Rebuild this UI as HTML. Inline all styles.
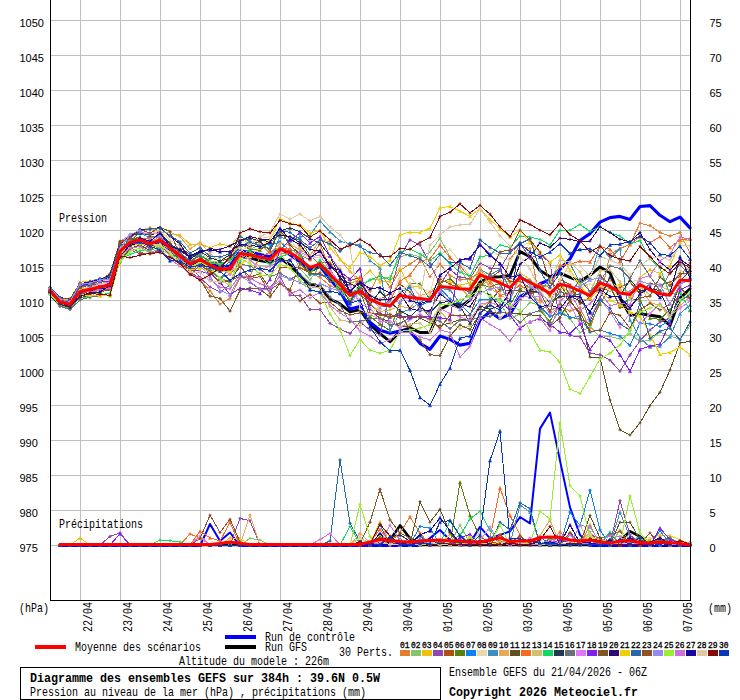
<!DOCTYPE html>
<html><head><meta charset="utf-8"><title>Diagramme des ensembles GEFS</title>
<style>
html,body{margin:0;padding:0;background:#fff;}
svg{display:block;}
.m{font-family:"Liberation Mono",monospace;font-size:13px;fill:#000;}
.mb{font-family:"Liberation Mono",monospace;font-size:13px;font-weight:bold;fill:#000;}
.s{font-family:"Liberation Sans",sans-serif;font-size:11px;fill:#000;}
.t{font-family:"Liberation Mono",monospace;font-size:9.5px;fill:#000;stroke:#000;stroke-width:0.35px;}
</style></head><body>
<svg width="740" height="700" viewBox="0 0 740 700">
<defs>
<marker id="k0" markerWidth="5" markerHeight="5" refX="0" refY="0" viewBox="-2.5 -2.5 5 5" markerUnits="userSpaceOnUse" orient="0"><g fill="#e67e30" stroke="#e67e30" stroke-width="0.6"><path d="M-1.5,0L0,-1.5L1.5,0L0,1.5Z"/></g></marker>
<marker id="k1" markerWidth="5" markerHeight="5" refX="0" refY="0" viewBox="-2.5 -2.5 5 5" markerUnits="userSpaceOnUse" orient="0"><g fill="#84c46c" stroke="#84c46c" stroke-width="0.6"><path d="M-1.5,0H1.5M0,-1.5V1.5" stroke-width="1"/></g></marker>
<marker id="k2" markerWidth="5" markerHeight="5" refX="0" refY="0" viewBox="-2.5 -2.5 5 5" markerUnits="userSpaceOnUse" orient="0"><g fill="#f0c010" stroke="#f0c010" stroke-width="0.6"><path d="M-1.5,1.5L0,-1.5L1.5,1.5Z"/></g></marker>
<marker id="k3" markerWidth="5" markerHeight="5" refX="0" refY="0" viewBox="-2.5 -2.5 5 5" markerUnits="userSpaceOnUse" orient="0"><g fill="#9048b0" stroke="#9048b0" stroke-width="0.6"><path d="M-1.5,0L0,-1.5L1.5,0L0,1.5Z"/></g></marker>
<marker id="k4" markerWidth="5" markerHeight="5" refX="0" refY="0" viewBox="-2.5 -2.5 5 5" markerUnits="userSpaceOnUse" orient="0"><g fill="#b05010" stroke="#b05010" stroke-width="0.6"><path d="M-1.5,0H1.5M0,-1.5V1.5" stroke-width="1"/></g></marker>
<marker id="k5" markerWidth="5" markerHeight="5" refX="0" refY="0" viewBox="-2.5 -2.5 5 5" markerUnits="userSpaceOnUse" orient="0"><g fill="#5c8010" stroke="#5c8010" stroke-width="0.6"><path d="M-1.5,1.5L0,-1.5L1.5,1.5Z"/></g></marker>
<marker id="k6" markerWidth="5" markerHeight="5" refX="0" refY="0" viewBox="-2.5 -2.5 5 5" markerUnits="userSpaceOnUse" orient="0"><g fill="#1080f0" stroke="#1080f0" stroke-width="0.6"><path d="M-1.5,0L0,-1.5L1.5,0L0,1.5Z"/></g></marker>
<marker id="k7" markerWidth="5" markerHeight="5" refX="0" refY="0" viewBox="-2.5 -2.5 5 5" markerUnits="userSpaceOnUse" orient="0"><g fill="#e8d8b0" stroke="#e8d8b0" stroke-width="0.6"><path d="M-1.5,0H1.5M0,-1.5V1.5" stroke-width="1"/></g></marker>
<marker id="k8" markerWidth="5" markerHeight="5" refX="0" refY="0" viewBox="-2.5 -2.5 5 5" markerUnits="userSpaceOnUse" orient="0"><g fill="#3c90c0" stroke="#3c90c0" stroke-width="0.6"><path d="M-1.5,1.5L0,-1.5L1.5,1.5Z"/></g></marker>
<marker id="k9" markerWidth="5" markerHeight="5" refX="0" refY="0" viewBox="-2.5 -2.5 5 5" markerUnits="userSpaceOnUse" orient="0"><g fill="#e8a858" stroke="#e8a858" stroke-width="0.6"><path d="M-1.5,0L0,-1.5L1.5,0L0,1.5Z"/></g></marker>
<marker id="k10" markerWidth="5" markerHeight="5" refX="0" refY="0" viewBox="-2.5 -2.5 5 5" markerUnits="userSpaceOnUse" orient="0"><g fill="#605020" stroke="#605020" stroke-width="0.6"><path d="M-1.5,0H1.5M0,-1.5V1.5" stroke-width="1"/></g></marker>
<marker id="k11" markerWidth="5" markerHeight="5" refX="0" refY="0" viewBox="-2.5 -2.5 5 5" markerUnits="userSpaceOnUse" orient="0"><g fill="#f86820" stroke="#f86820" stroke-width="0.6"><path d="M-1.5,1.5L0,-1.5L1.5,1.5Z"/></g></marker>
<marker id="k12" markerWidth="5" markerHeight="5" refX="0" refY="0" viewBox="-2.5 -2.5 5 5" markerUnits="userSpaceOnUse" orient="0"><g fill="#d0c070" stroke="#d0c070" stroke-width="0.6"><path d="M-1.5,0L0,-1.5L1.5,0L0,1.5Z"/></g></marker>
<marker id="k13" markerWidth="5" markerHeight="5" refX="0" refY="0" viewBox="-2.5 -2.5 5 5" markerUnits="userSpaceOnUse" orient="0"><g fill="#10d860" stroke="#10d860" stroke-width="0.6"><path d="M-1.5,0H1.5M0,-1.5V1.5" stroke-width="1"/></g></marker>
<marker id="k14" markerWidth="5" markerHeight="5" refX="0" refY="0" viewBox="-2.5 -2.5 5 5" markerUnits="userSpaceOnUse" orient="0"><g fill="#203850" stroke="#203850" stroke-width="0.6"><path d="M-1.5,1.5L0,-1.5L1.5,1.5Z"/></g></marker>
<marker id="k15" markerWidth="5" markerHeight="5" refX="0" refY="0" viewBox="-2.5 -2.5 5 5" markerUnits="userSpaceOnUse" orient="0"><g fill="#687078" stroke="#687078" stroke-width="0.6"><path d="M-1.5,0L0,-1.5L1.5,0L0,1.5Z"/></g></marker>
<marker id="k16" markerWidth="5" markerHeight="5" refX="0" refY="0" viewBox="-2.5 -2.5 5 5" markerUnits="userSpaceOnUse" orient="0"><g fill="#e078f8" stroke="#e078f8" stroke-width="0.6"><path d="M-1.5,0H1.5M0,-1.5V1.5" stroke-width="1"/></g></marker>
<marker id="k17" markerWidth="5" markerHeight="5" refX="0" refY="0" viewBox="-2.5 -2.5 5 5" markerUnits="userSpaceOnUse" orient="0"><g fill="#8020f0" stroke="#8020f0" stroke-width="0.6"><path d="M-1.5,1.5L0,-1.5L1.5,1.5Z"/></g></marker>
<marker id="k18" markerWidth="5" markerHeight="5" refX="0" refY="0" viewBox="-2.5 -2.5 5 5" markerUnits="userSpaceOnUse" orient="0"><g fill="#805828" stroke="#805828" stroke-width="0.6"><path d="M-1.5,0L0,-1.5L1.5,0L0,1.5Z"/></g></marker>
<marker id="k19" markerWidth="5" markerHeight="5" refX="0" refY="0" viewBox="-2.5 -2.5 5 5" markerUnits="userSpaceOnUse" orient="0"><g fill="#300870" stroke="#300870" stroke-width="0.6"><path d="M-1.5,0H1.5M0,-1.5V1.5" stroke-width="1"/></g></marker>
<marker id="k20" markerWidth="5" markerHeight="5" refX="0" refY="0" viewBox="-2.5 -2.5 5 5" markerUnits="userSpaceOnUse" orient="0"><g fill="#f0d000" stroke="#f0d000" stroke-width="0.6"><path d="M-1.5,1.5L0,-1.5L1.5,1.5Z"/></g></marker>
<marker id="k21" markerWidth="5" markerHeight="5" refX="0" refY="0" viewBox="-2.5 -2.5 5 5" markerUnits="userSpaceOnUse" orient="0"><g fill="#2868a8" stroke="#2868a8" stroke-width="0.6"><path d="M-1.5,0L0,-1.5L1.5,0L0,1.5Z"/></g></marker>
<marker id="k22" markerWidth="5" markerHeight="5" refX="0" refY="0" viewBox="-2.5 -2.5 5 5" markerUnits="userSpaceOnUse" orient="0"><g fill="#905020" stroke="#905020" stroke-width="0.6"><path d="M-1.5,0H1.5M0,-1.5V1.5" stroke-width="1"/></g></marker>
<marker id="k23" markerWidth="5" markerHeight="5" refX="0" refY="0" viewBox="-2.5 -2.5 5 5" markerUnits="userSpaceOnUse" orient="0"><g fill="#9888f0" stroke="#9888f0" stroke-width="0.6"><path d="M-1.5,1.5L0,-1.5L1.5,1.5Z"/></g></marker>
<marker id="k24" markerWidth="5" markerHeight="5" refX="0" refY="0" viewBox="-2.5 -2.5 5 5" markerUnits="userSpaceOnUse" orient="0"><g fill="#98f030" stroke="#98f030" stroke-width="0.6"><path d="M-1.5,0L0,-1.5L1.5,0L0,1.5Z"/></g></marker>
<marker id="k25" markerWidth="5" markerHeight="5" refX="0" refY="0" viewBox="-2.5 -2.5 5 5" markerUnits="userSpaceOnUse" orient="0"><g fill="#d070d8" stroke="#d070d8" stroke-width="0.6"><path d="M-1.5,0H1.5M0,-1.5V1.5" stroke-width="1"/></g></marker>
<marker id="k26" markerWidth="5" markerHeight="5" refX="0" refY="0" viewBox="-2.5 -2.5 5 5" markerUnits="userSpaceOnUse" orient="0"><g fill="#1808a0" stroke="#1808a0" stroke-width="0.6"><path d="M-1.5,1.5L0,-1.5L1.5,1.5Z"/></g></marker>
<marker id="k27" markerWidth="5" markerHeight="5" refX="0" refY="0" viewBox="-2.5 -2.5 5 5" markerUnits="userSpaceOnUse" orient="0"><g fill="#e0c8a0" stroke="#e0c8a0" stroke-width="0.6"><path d="M-1.5,0L0,-1.5L1.5,0L0,1.5Z"/></g></marker>
<marker id="k28" markerWidth="5" markerHeight="5" refX="0" refY="0" viewBox="-2.5 -2.5 5 5" markerUnits="userSpaceOnUse" orient="0"><g fill="#880808" stroke="#880808" stroke-width="0.6"><path d="M-1.5,0H1.5M0,-1.5V1.5" stroke-width="1"/></g></marker>
<marker id="k29" markerWidth="5" markerHeight="5" refX="0" refY="0" viewBox="-2.5 -2.5 5 5" markerUnits="userSpaceOnUse" orient="0"><g fill="#0838b8" stroke="#0838b8" stroke-width="0.6"><path d="M-1.5,1.5L0,-1.5L1.5,1.5Z"/></g></marker>
</defs>
<rect width="740" height="700" fill="#fff"/>
<g stroke="#c0c0c0" stroke-width="1" shape-rendering="crispEdges">
<line x1="80.5" y1="0" x2="80.5" y2="600"/>
<line x1="120.5" y1="0" x2="120.5" y2="600"/>
<line x1="160.5" y1="0" x2="160.5" y2="600"/>
<line x1="200.5" y1="0" x2="200.5" y2="600"/>
<line x1="240.5" y1="0" x2="240.5" y2="600"/>
<line x1="280.5" y1="0" x2="280.5" y2="600"/>
<line x1="320.5" y1="0" x2="320.5" y2="600"/>
<line x1="360.5" y1="0" x2="360.5" y2="600"/>
<line x1="400.5" y1="0" x2="400.5" y2="600"/>
<line x1="440.5" y1="0" x2="440.5" y2="600"/>
<line x1="480.5" y1="0" x2="480.5" y2="600"/>
<line x1="520.5" y1="0" x2="520.5" y2="600"/>
<line x1="560.5" y1="0" x2="560.5" y2="600"/>
<line x1="600.5" y1="0" x2="600.5" y2="600"/>
<line x1="640.5" y1="0" x2="640.5" y2="600"/>
<line x1="680.5" y1="0" x2="680.5" y2="600"/>
<line x1="51" y1="20.5" x2="690" y2="20.5"/>
<line x1="51" y1="55.5" x2="690" y2="55.5"/>
<line x1="51" y1="90.5" x2="690" y2="90.5"/>
<line x1="51" y1="125.5" x2="690" y2="125.5"/>
<line x1="51" y1="160.5" x2="690" y2="160.5"/>
<line x1="51" y1="195.5" x2="690" y2="195.5"/>
<line x1="51" y1="230.5" x2="690" y2="230.5"/>
<line x1="51" y1="265.5" x2="690" y2="265.5"/>
<line x1="51" y1="300.5" x2="690" y2="300.5"/>
<line x1="51" y1="335.5" x2="690" y2="335.5"/>
<line x1="51" y1="370.5" x2="690" y2="370.5"/>
<line x1="51" y1="405.5" x2="690" y2="405.5"/>
<line x1="51" y1="440.5" x2="690" y2="440.5"/>
<line x1="51" y1="475.5" x2="690" y2="475.5"/>
<line x1="51" y1="510.5" x2="690" y2="510.5"/>
<line x1="51" y1="545.5" x2="690" y2="545.5"/>
</g>
<g stroke-linejoin="round" stroke-linecap="round">
<polyline points="50,293.9 60,304.8 70,305.9 80,292.1 90,290.0 100,288.7 110,287.7 120,254.9 130,245.1 140,241.5 150,244.6 160,240.6 170,249.6 180,259.0 190,267.5 200,262.3 210,266.7 220,269.9 230,269.3 240,255.3 250,257.8 260,260.6 270,262.3 280,258.2 290,265.0 300,275.5 310,284.7 320,287.0 330,299.0 340,303.8 350,311.8 360,309.5 370,324.5 380,333.6 390,341.7 400,331.4 410,327.9 420,332.5 430,332.5 440,309.5 450,304.0 460,307.0 470,300.0 480,282.0 490,277.3 500,276.8 510,275.5 520,251.6 530,256.6 540,270.4 550,276.8 560,273.2 570,277.3 580,281.4 590,275.0 600,267.0 610,272.7 620,298.0 630,315.2 640,313.6 650,315.2 660,316.8 670,325.5 680,298.0 690,288.8" fill="none" stroke="#000" stroke-width="2.9"/>
<polyline points="50,290.9 60,303.8 70,305.5 80,291.0 90,288.5 100,287.8 110,286.7 120,252.4 130,241.5 140,239.3 150,245.1 160,241.9 170,248.6 180,255.1 190,263.6 200,260.8 210,262.5 220,266.7 230,266.0 240,251.0 250,252.2 260,254.5 270,256.8 280,248.0 290,254.7 300,261.6 310,269.6 320,266.2 330,279.0 340,291.0 350,309.0 360,306.5 370,322.2 380,330.2 390,333.2 400,330.9 410,331.4 420,343.3 430,349.3 440,336.0 450,339.4 460,345.1 470,343.3 480,319.9 490,311.8 500,318.7 510,314.1 520,296.9 530,291.0 540,283.7 550,279.6 560,269.3 570,258.9 580,240.5 590,233.6 600,222.2 610,217.6 620,216.4 630,219.4 640,206.5 650,205.6 660,215.3 670,221.7 680,217.1 690,227.9" fill="none" stroke="#0000ff" stroke-width="3.1"/>
<polyline points="60,545.0 70,545.0 80,545.0 90,545.0 100,545.0 110,545.0 120,545.0 130,545.0 140,545.0 150,545.0 160,545.0 170,545.0 180,545.0 190,545.0 200,545.0 210,545.0 220,545.0 230,545.0 240,545.0 250,545.0 260,545.0 270,545.0 280,545.0 290,545.0 300,545.0 310,545.0 320,545.0 330,545.0 340,545.0 350,545.0 360,545.0 370,545.0 380,538.0 390,540.0 400,525.4 410,538.4 420,545.0 430,545.0 440,545.0 450,545.0 460,545.0 470,545.0 480,545.0 490,545.0 500,545.0 510,545.0 520,545.0 530,545.0 540,545.0 550,545.0 560,545.0 570,545.0 580,545.0 590,545.0 600,545.0 610,545.0 620,541.0 630,531.3 640,536.5 650,543.0 660,545.0 670,545.0 680,545.0 690,545.0" fill="none" stroke="#000" stroke-width="2.6"/>
<polyline points="60,546.0 70,546.0 80,546.0 90,546.0 100,546.0 110,546.0 120,546.0 130,546.0 140,546.0 150,546.0 160,546.0 170,546.0 180,546.0 190,546.0 200,546.0 210,524.0 220,541.0 230,532.5 240,546.0 250,546.0 260,546.0 270,546.0 280,546.0 290,546.0 300,546.0 310,546.0 320,546.0 330,546.0 340,546.0 350,546.0 360,546.0 370,546.0 380,546.0 390,546.0 400,546.0 410,546.0 420,546.0 430,538.0 440,530.0 450,540.0 460,546.0 470,543.0 480,526.9 490,538.3 500,534.9 510,531.4 520,517.0 530,523.4 540,428.6 550,412.6 560,460.6 570,507.4 580,534.9 590,546.0 600,546.0 610,546.0 620,546.0 630,546.0 640,546.0 650,546.0 660,546.0 670,546.0 680,546.0 690,546.0" fill="none" stroke="#0000ff" stroke-width="2"/>
</g>
<g shape-rendering="crispEdges" stroke-linejoin="round">
<polyline points="50,290.2 60,301.2 70,304.0 80,292.0 90,289.8 100,285.8 110,287.6 120,253.2 130,240.2 140,238.2 150,242.5 160,236.4 170,244.4 180,265.2 190,273.5 200,279.8 210,291.0 220,304.0 230,298.4 240,277.8 250,276.0 260,256.9 270,260.9 280,253.2 290,253.7 300,255.3 310,273.3 320,277.2 330,285.8 340,289.5 350,293.3 360,278.9 370,291.2 380,272.9 390,287.2 400,270.5 410,264.0 420,257.3 430,276.6 440,264.1 450,275.7 460,280.0 470,278.9 480,284.5 490,281.3 500,291.1 510,259.0 520,246.0 530,248.6 540,300.3 550,310.2 560,306.7 570,311.0 580,307.8 590,328.1 600,299.9 610,254.0 620,248.6 630,244.0 640,223.3 650,225.6 660,232.5 670,236.0 680,232.5 690,253.0" fill="none" stroke="#e67e30" stroke-width="1" marker-start="url(#k0)" marker-mid="url(#k0)" marker-end="url(#k0)"/>
<polyline points="50,292.2 60,304.0 70,306.6 80,297.3 90,298.0 100,287.5 110,287.4 120,254.2 130,247.7 140,246.7 150,248.1 160,244.2 170,248.7 180,260.9 190,263.6 200,264.6 210,272.1 220,277.6 230,282.9 240,255.8 250,249.8 260,244.5 270,253.1 280,246.8 290,249.7 300,268.6 310,279.9 320,265.9 330,273.4 340,289.2 350,299.6 360,284.5 370,280.1 380,279.0 390,277.0 400,256.6 410,254.3 420,256.6 430,252.0 440,238.2 450,256.6 460,268.0 470,285.3 480,276.4 490,297.4 500,303.2 510,318.8 520,313.7 530,302.4 540,305.5 550,325.6 560,309.7 570,318.7 580,332.7 590,326.2 600,337.3 610,336.5 620,339.0 630,333.6 640,341.7 650,340.2 660,332.0 670,336.2 680,339.1 690,325.8" fill="none" stroke="#84c46c" stroke-width="1" marker-start="url(#k1)" marker-mid="url(#k1)" marker-end="url(#k1)"/>
<polyline points="50,288.0 60,298.8 70,301.1 80,282.3 90,280.9 100,278.4 110,277.6 120,244.2 130,242.3 140,230.8 150,228.0 160,235.6 170,234.8 180,235.0 190,244.5 200,243.9 210,247.7 220,243.7 230,246.4 240,234.4 250,246.0 260,236.6 270,247.2 280,232.9 290,237.4 300,246.4 310,257.7 320,250.0 330,262.8 340,268.2 350,283.2 360,279.8 370,270.6 380,281.7 390,281.3 400,268.3 410,287.0 420,286.9 430,293.3 440,281.3 450,281.9 460,285.3 470,282.7 480,268.1 490,279.9 500,280.7 510,282.0 520,272.8 530,279.4 540,287.4 550,296.4 560,284.7 570,294.0 580,288.5 590,294.5 600,283.0 610,286.8 620,284.5 630,294.7 640,277.7 650,269.5 660,273.5 670,266.0 680,242.4 690,239.4" fill="none" stroke="#f0c010" stroke-width="1" marker-start="url(#k2)" marker-mid="url(#k2)" marker-end="url(#k2)"/>
<polyline points="50,289.7 60,301.5 70,303.8 80,293.5 90,292.9 100,287.3 110,286.7 120,257.5 130,249.8 140,254.0 150,253.3 160,250.9 170,253.2 180,263.6 190,265.9 200,277.5 210,287.1 220,291.9 230,284.9 240,264.0 250,282.4 260,289.0 270,288.0 280,276.6 290,295.0 300,295.7 310,309.5 320,309.5 330,323.3 340,329.0 350,333.6 360,322.0 370,330.0 380,335.0 390,292.7 400,256.6 410,240.0 420,245.0 430,263.5 440,284.5 450,269.7 460,277.3 470,278.5 480,262.9 490,268.2 500,269.1 510,251.3 520,242.6 530,258.4 540,253.9 550,263.0 560,321.8 570,335.6 580,336.8 590,353.3 600,354.7 610,360.2 620,371.2 630,355.0 640,340.9 650,330.0 660,322.0 670,318.0 680,300.0 690,296.0" fill="none" stroke="#9048b0" stroke-width="1" marker-start="url(#k3)" marker-mid="url(#k3)" marker-end="url(#k3)"/>
<polyline points="50,292.1 60,304.1 70,306.1 80,292.0 90,293.5 100,292.4 110,287.9 120,256.9 130,247.5 140,252.5 150,254.2 160,249.8 170,254.2 180,258.6 190,272.0 200,263.7 210,273.4 220,281.3 230,280.7 240,276.3 250,278.6 260,276.5 270,293.5 280,268.0 290,267.8 300,267.8 310,272.7 320,262.3 330,263.1 340,276.0 350,280.5 360,277.7 370,300.2 380,298.9 390,293.7 400,284.1 410,291.9 420,304.4 430,317.9 440,278.8 450,284.2 460,287.7 470,292.3 480,276.3 490,278.7 500,270.8 510,281.7 520,281.2 530,287.4 540,283.8 550,295.7 560,279.6 570,284.7 580,304.0 590,296.9 600,287.6 610,290.8 620,287.5 630,282.1 640,293.8 650,283.5 660,285.1 670,282.1 680,276.5 690,262.8" fill="none" stroke="#b05010" stroke-width="1" marker-start="url(#k4)" marker-mid="url(#k4)" marker-end="url(#k4)"/>
<polyline points="50,289.3 60,300.1 70,303.8 80,290.4 90,287.9 100,284.2 110,280.8 120,247.3 130,239.9 140,237.0 150,246.2 160,240.2 170,244.9 180,257.2 190,261.3 200,254.6 210,261.4 220,266.0 230,258.6 240,243.5 250,249.4 260,250.3 270,241.9 280,235.2 290,236.8 300,240.3 310,255.3 320,265.3 330,277.3 340,289.3 350,291.5 360,291.9 370,316.5 380,324.0 390,330.6 400,302.6 410,283.9 420,283.9 430,299.7 440,283.5 450,278.6 460,288.2 470,289.3 480,284.5 490,286.9 500,283.2 510,304.9 520,288.4 530,286.0 540,310.4 550,321.4 560,302.9 570,317.4 580,319.0 590,323.9 600,304.0 610,287.5 620,305.8 630,298.4 640,300.2 650,318.2 660,319.3 670,309.7 680,292.6 690,310.5" fill="none" stroke="#5c8010" stroke-width="1" marker-start="url(#k5)" marker-mid="url(#k5)" marker-end="url(#k5)"/>
<polyline points="50,289.6 60,301.7 70,303.7 80,288.1 90,281.6 100,278.5 110,278.8 120,244.7 130,239.4 140,239.9 150,241.7 160,249.4 170,248.6 180,259.8 190,268.5 200,260.9 210,268.8 220,270.9 230,261.4 240,246.4 250,241.9 260,244.9 270,244.8 280,242.1 290,250.6 300,251.3 310,274.9 320,274.7 330,277.2 340,281.6 350,303.4 360,286.0 370,295.6 380,306.3 390,306.2 400,292.5 410,287.8 420,305.4 430,301.4 440,288.2 450,298.9 460,303.7 470,314.3 480,299.9 490,299.3 500,299.1 510,310.8 520,290.9 530,292.4 540,306.5 550,316.5 560,312.8 570,317.6 580,316.5 590,332.2 600,329.9 610,333.3 620,336.3 630,345.5 640,323.0 650,324.0 660,326.4 670,320.0 680,300.0 690,295.0" fill="none" stroke="#1080f0" stroke-width="1" marker-start="url(#k6)" marker-mid="url(#k6)" marker-end="url(#k6)"/>
<polyline points="50,289.8 60,300.6 70,303.7 80,292.1 90,284.4 100,285.6 110,278.4 120,246.1 130,236.3 140,231.1 150,234.0 160,230.6 170,240.3 180,246.2 190,255.6 200,253.0 210,259.3 220,257.8 230,256.5 240,241.2 250,237.9 260,238.1 270,236.7 280,230.0 290,238.4 300,253.8 310,258.0 320,257.6 330,256.3 340,268.5 350,283.8 360,285.3 370,294.5 380,298.9 390,299.5 400,276.1 410,278.1 420,286.0 430,293.6 440,254.7 450,249.2 460,261.8 470,276.4 480,261.2 490,249.5 500,256.4 510,260.7 520,247.3 530,241.7 540,258.1 550,268.1 560,266.1 570,273.6 580,287.7 590,284.1 600,285.4 610,290.2 620,296.8 630,281.3 640,280.6 650,290.9 660,292.6 670,292.7 680,268.7 690,283.0" fill="none" stroke="#e8d8b0" stroke-width="1" marker-start="url(#k7)" marker-mid="url(#k7)" marker-end="url(#k7)"/>
<polyline points="50,290.3 60,300.5 70,300.4 80,284.5 90,283.0 100,279.7 110,274.4 120,242.8 130,234.6 140,233.4 150,237.6 160,234.8 170,245.7 180,252.2 190,261.1 200,260.6 210,270.9 220,278.6 230,268.5 240,260.0 250,256.6 260,257.5 270,260.5 280,236.7 290,240.8 300,236.6 310,235.0 320,221.0 330,231.8 340,241.0 350,244.0 360,244.5 370,260.5 380,268.0 390,330.4 400,312.7 410,309.4 420,302.4 430,297.0 440,288.5 450,289.7 460,303.5 470,292.0 480,269.1 490,275.0 500,269.4 510,289.5 520,276.4 530,280.5 540,291.8 550,279.0 560,266.5 570,263.6 580,283.0 590,277.8 600,245.3 610,258.6 620,248.7 630,320.0 640,338.0 650,347.0 660,346.0 670,336.8 680,313.8 690,305.0" fill="none" stroke="#3c90c0" stroke-width="1" marker-start="url(#k8)" marker-mid="url(#k8)" marker-end="url(#k8)"/>
<polyline points="50,288.9 60,299.2 70,300.1 80,288.8 90,283.6 100,283.2 110,276.6 120,243.2 130,235.6 140,230.4 150,227.8 160,232.5 170,232.2 180,236.6 190,249.0 200,242.3 210,253.1 220,263.3 230,260.6 240,240.6 250,236.9 260,243.9 270,252.9 280,243.5 290,244.8 300,249.4 310,256.0 320,239.2 330,242.1 340,259.0 350,271.8 360,279.8 370,304.2 380,311.6 390,309.8 400,306.4 410,307.8 420,295.9 430,292.1 440,287.9 450,286.9 460,287.7 470,297.3 480,268.2 490,288.4 500,294.4 510,301.2 520,276.4 530,292.8 540,302.6 550,301.1 560,297.5 570,290.5 580,300.2 590,299.2 600,289.1 610,280.3 620,289.5 630,295.9 640,285.8 650,302.6 660,305.4 670,313.8 680,305.9 690,296.5" fill="none" stroke="#e8a858" stroke-width="1" marker-start="url(#k9)" marker-mid="url(#k9)" marker-end="url(#k9)"/>
<polyline points="50,291.9 60,304.1 70,306.6 80,298.6 90,294.0 100,291.7 110,289.7 120,262.0 130,248.3 140,245.0 150,250.5 160,241.5 170,246.3 180,248.5 190,253.9 200,257.0 210,264.8 220,261.3 230,258.0 240,246.6 250,244.6 260,241.5 270,251.0 280,229.7 290,245.1 300,254.3 310,272.3 320,267.2 330,276.1 340,285.2 350,302.2 360,283.4 370,309.1 380,318.6 390,321.6 400,326.1 410,326.1 420,318.2 430,322.8 440,325.8 450,323.0 460,319.8 470,318.9 480,309.0 490,312.5 500,312.7 510,312.9 520,313.9 530,314.8 540,315.7 550,326.5 560,317.7 570,300.0 580,315.0 590,357.0 600,357.9 610,400.0 620,429.8 630,435.0 640,422.9 650,405.7 660,392.3 670,370.0 680,343.0 690,341.4" fill="none" stroke="#605020" stroke-width="1" marker-start="url(#k10)" marker-mid="url(#k10)" marker-end="url(#k10)"/>
<polyline points="50,290.8 60,301.6 70,303.6 80,290.9 90,291.7 100,292.2 110,287.3 120,256.2 130,244.3 140,238.9 150,238.1 160,235.6 170,242.4 180,254.5 190,262.9 200,259.8 210,265.3 220,268.9 230,266.9 240,258.0 250,252.8 260,257.1 270,251.8 280,248.3 290,248.4 300,255.5 310,259.6 320,243.5 330,269.7 340,283.7 350,292.5 360,277.0 370,298.2 380,305.4 390,301.3 400,281.0 410,275.0 420,261.0 430,259.0 440,245.0 450,257.8 460,265.8 470,278.2 480,272.8 490,282.7 500,295.4 510,293.1 520,284.9 530,292.8 540,285.0 550,287.6 560,265.6 570,264.2 580,261.1 590,262.1 600,246.5 610,249.4 620,261.5 630,244.7 640,236.8 650,242.7 660,236.6 670,247.6 680,239.8 690,238.7" fill="none" stroke="#f86820" stroke-width="1" marker-start="url(#k11)" marker-mid="url(#k11)" marker-end="url(#k11)"/>
<polyline points="50,291.3 60,302.4 70,304.3 80,289.4 90,287.5 100,283.6 110,281.9 120,247.7 130,240.8 140,239.4 150,248.6 160,245.5 170,253.4 180,259.7 190,268.5 200,262.7 210,261.5 220,262.2 230,254.3 240,247.0 250,261.1 260,266.1 270,266.3 280,252.3 290,267.8 300,280.6 310,286.9 320,287.2 330,306.8 340,319.9 350,321.8 360,325.4 370,314.4 380,319.8 390,314.1 400,326.5 410,324.4 420,323.2 430,332.8 440,311.2 450,322.0 460,328.7 470,325.8 480,306.5 490,302.0 500,318.2 510,310.3 520,299.9 530,284.6 540,294.1 550,281.7 560,260.1 570,261.9 580,271.9 590,291.8 600,271.0 610,270.1 620,281.7 630,299.5 640,286.3 650,295.0 660,286.0 670,290.6 680,261.6 690,271.5" fill="none" stroke="#d0c070" stroke-width="1" marker-start="url(#k12)" marker-mid="url(#k12)" marker-end="url(#k12)"/>
<polyline points="50,291.8 60,304.6 70,308.9 80,297.4 90,296.7 100,295.1 110,293.0 120,259.8 130,254.3 140,250.8 150,250.5 160,246.5 170,253.4 180,259.4 190,257.8 200,254.7 210,263.3 220,264.2 230,259.6 240,253.4 250,251.5 260,257.5 270,264.6 280,257.3 290,253.2 300,255.5 310,274.4 320,260.0 330,272.3 340,294.0 350,293.0 360,287.7 370,279.9 380,276.1 390,279.6 400,252.0 410,248.8 420,253.9 430,260.8 440,252.9 450,263.6 460,272.3 470,275.9 480,256.6 490,255.5 500,245.0 510,247.4 520,236.0 530,237.0 540,239.4 550,245.0 560,230.2 570,230.2 580,224.5 590,231.4 600,226.8 610,232.5 620,236.0 630,244.0 640,240.5 650,259.0 660,268.0 670,294.3 680,292.5 690,310.5" fill="none" stroke="#10d860" stroke-width="1" marker-start="url(#k13)" marker-mid="url(#k13)" marker-end="url(#k13)"/>
<polyline points="50,289.3 60,299.8 70,301.9 80,286.8 90,283.3 100,281.2 110,276.9 120,243.8 130,236.6 140,233.0 150,235.0 160,232.3 170,244.0 180,250.8 190,257.4 200,251.4 210,257.7 220,261.1 230,254.6 240,241.3 250,238.3 260,240.6 270,241.3 280,230.8 290,227.9 300,231.8 310,238.5 320,243.5 330,255.9 340,278.8 350,283.6 360,288.9 370,304.3 380,291.2 390,302.3 400,310.4 410,316.6 420,307.5 430,312.3 440,302.5 450,301.6 460,306.1 470,323.1 480,306.1 490,309.3 500,305.3 510,308.1 520,298.3 530,291.8 540,292.1 550,302.5 560,296.1 570,296.1 580,301.0 590,311.3 600,297.7 610,277.3 620,295.6 630,279.9 640,290.7 650,288.8 660,290.6 670,314.1 680,281.8 690,270.1" fill="none" stroke="#203850" stroke-width="1" marker-start="url(#k14)" marker-mid="url(#k14)" marker-end="url(#k14)"/>
<polyline points="50,293.3 60,306.5 70,309.5 80,299.9 90,297.2 100,295.7 110,294.9 120,261.9 130,246.8 140,243.2 150,245.9 160,237.4 170,246.1 180,251.9 190,262.5 200,255.1 210,269.5 220,278.4 230,274.0 240,263.5 250,266.4 260,269.2 270,276.8 280,273.1 290,279.2 300,274.4 310,283.6 320,284.3 330,297.2 340,305.0 350,321.8 360,321.2 370,318.7 380,318.3 390,324.9 400,323.5 410,317.5 420,316.8 430,318.5 440,321.4 450,328.5 460,320.3 470,320.1 480,317.1 490,316.4 500,312.7 510,313.3 520,322.5 530,313.8 540,310.3 550,304.2 560,292.0 570,294.7 580,279.3 590,291.6 600,281.5 610,265.9 620,268.4 630,278.4 640,260.7 650,276.2 660,290.8 670,272.3 680,264.8 690,275.8" fill="none" stroke="#687078" stroke-width="1" marker-start="url(#k15)" marker-mid="url(#k15)" marker-end="url(#k15)"/>
<polyline points="50,290.0 60,301.1 70,301.5 80,284.5 90,286.5 100,283.2 110,282.8 120,241.7 130,234.7 140,232.4 150,234.0 160,232.8 170,248.3 180,255.4 190,263.0 200,260.3 210,268.5 220,267.6 230,274.5 240,254.3 250,259.6 260,269.8 270,266.2 280,260.5 290,260.2 300,252.1 310,257.1 320,255.1 330,270.3 340,282.6 350,285.7 360,303.8 370,307.6 380,322.0 390,321.2 400,328.4 410,319.6 420,314.1 430,320.8 440,308.3 450,313.6 460,317.1 470,320.4 480,304.3 490,302.1 500,306.3 510,307.3 520,298.0 530,295.6 540,296.6 550,314.3 560,306.5 570,304.9 580,323.4 590,318.3 600,298.8 610,311.9 620,327.8 630,312.8 640,323.9 650,313.5 660,303.3 670,315.4 680,308.2 690,301.0" fill="none" stroke="#e078f8" stroke-width="1" marker-start="url(#k16)" marker-mid="url(#k16)" marker-end="url(#k16)"/>
<polyline points="50,288.0 60,298.9 70,301.7 80,286.0 90,283.2 100,281.4 110,281.6 120,249.7 130,243.4 140,243.2 150,247.7 160,243.5 170,255.4 180,265.2 190,269.2 200,271.3 210,273.5 220,282.1 230,294.7 240,288.2 250,289.8 260,293.4 270,279.4 280,249.7 290,240.4 300,233.0 310,243.0 320,236.4 330,256.0 340,271.6 350,279.0 360,268.6 370,314.0 380,313.5 390,316.9 400,315.5 410,317.7 420,316.3 430,316.9 440,317.7 450,319.3 460,260.0 470,259.0 480,244.0 490,254.0 500,264.0 510,315.0 520,328.6 530,321.8 540,318.7 550,324.4 560,332.1 570,333.6 580,323.8 590,349.4 600,335.6 610,340.2 620,355.0 630,371.2 640,349.4 650,346.0 660,344.0 670,323.0 680,290.0 690,285.0" fill="none" stroke="#8020f0" stroke-width="1" marker-start="url(#k17)" marker-mid="url(#k17)" marker-end="url(#k17)"/>
<polyline points="50,290.1 60,300.8 70,300.9 80,287.5 90,285.0 100,279.8 110,273.8 120,241.3 130,238.8 140,229.7 150,232.9 160,227.5 170,231.4 180,255.4 190,271.5 200,279.0 210,296.0 220,298.4 230,311.0 240,290.4 250,288.0 260,289.3 270,296.8 280,283.5 290,290.0 300,263.3 310,273.8 320,272.9 330,281.5 340,281.3 350,292.1 360,294.2 370,303.8 380,314.6 390,317.2 400,313.0 410,330.0 420,340.0 430,354.8 440,355.5 450,336.0 460,325.0 470,329.4 480,313.8 490,301.8 500,289.6 510,290.5 520,290.6 530,293.2 540,292.5 550,311.4 560,284.8 570,299.2 580,287.7 590,299.6 600,275.7 610,285.3 620,307.6 630,305.8 640,297.7 650,296.1 660,276.9 670,285.6 680,273.7 690,273.6" fill="none" stroke="#805828" stroke-width="1" marker-start="url(#k18)" marker-mid="url(#k18)" marker-end="url(#k18)"/>
<polyline points="50,287.4 60,297.5 70,299.2 80,283.6 90,282.1 100,279.5 110,275.4 120,243.1 130,236.8 140,229.3 150,229.1 160,227.6 170,236.2 180,244.0 190,259.2 200,252.4 210,248.8 220,249.4 230,245.8 240,240.6 250,236.6 260,239.0 270,239.8 280,235.0 290,236.6 300,242.6 310,249.5 320,251.2 330,265.2 340,276.7 350,291.3 360,283.0 370,295.6 380,300.1 390,299.2 400,293.6 410,308.5 420,311.0 430,310.8 440,293.8 450,301.7 460,304.4 470,306.7 480,290.8 490,295.1 500,308.0 510,290.9 520,264.3 530,256.4 540,243.0 550,247.4 560,238.2 570,239.4 580,241.7 590,241.0 600,226.8 610,232.5 620,239.4 630,241.7 640,232.5 650,249.7 660,262.0 670,269.9 680,259.2 690,266.0" fill="none" stroke="#300870" stroke-width="1" marker-start="url(#k19)" marker-mid="url(#k19)" marker-end="url(#k19)"/>
<polyline points="50,291.6 60,302.6 70,305.8 80,295.8 90,295.2 100,295.9 110,295.8 120,259.4 130,246.6 140,243.5 150,246.6 160,245.1 170,253.1 180,265.2 190,270.1 200,268.1 210,271.5 220,271.3 230,272.0 240,265.1 250,256.4 260,248.0 270,240.3 280,218.7 290,223.3 300,225.0 310,233.0 320,230.7 330,248.0 340,259.4 350,267.4 360,252.5 370,256.6 380,265.4 390,260.0 400,234.8 410,232.0 420,232.5 430,227.9 440,207.9 450,206.5 460,211.1 470,216.4 480,208.4 490,219.4 500,229.0 510,237.0 520,230.2 530,242.8 540,252.0 550,262.0 560,255.0 570,270.0 580,285.0 590,298.0 600,290.0 610,300.0 620,305.0 630,312.0 640,316.0 650,334.5 660,354.4 670,352.4 680,347.0 690,354.7" fill="none" stroke="#f0d000" stroke-width="1" marker-start="url(#k20)" marker-mid="url(#k20)" marker-end="url(#k20)"/>
<polyline points="50,287.4 60,297.4 70,304.3 80,284.6 90,286.3 100,280.1 110,276.3 120,245.1 130,243.4 140,231.0 150,229.0 160,228.8 170,235.5 180,241.9 190,253.2 200,247.7 210,256.2 220,257.0 230,253.7 240,236.6 250,241.7 260,246.6 270,248.4 280,229.9 290,232.5 300,239.5 310,247.6 320,240.2 330,243.9 340,251.3 350,243.3 360,246.6 370,252.6 380,254.4 390,265.3 400,252.3 410,255.8 420,259.0 430,266.9 440,254.6 450,262.6 460,262.6 470,268.3 480,239.7 490,247.5 500,253.0 510,253.1 520,243.7 530,238.7 540,270.8 550,287.2 560,273.2 570,296.6 580,294.1 590,320.9 600,299.7 610,308.6 620,323.9 630,330.2 640,303.7 650,338.4 660,331.2 670,328.3 680,339.8 690,322.1" fill="none" stroke="#2868a8" stroke-width="1" marker-start="url(#k21)" marker-mid="url(#k21)" marker-end="url(#k21)"/>
<polyline points="50,287.7 60,298.6 70,299.1 80,283.0 90,283.6 100,285.9 110,284.6 120,242.9 130,237.6 140,240.9 150,244.4 160,244.0 170,252.5 180,258.5 190,275.0 200,264.9 210,271.2 220,283.2 230,280.6 240,266.8 250,277.4 260,273.5 270,289.7 280,283.3 290,291.1 300,301.0 310,294.4 320,303.2 330,302.1 340,310.4 350,314.8 360,312.9 370,313.1 380,314.6 390,314.4 400,317.8 410,316.4 420,316.3 430,318.6 440,328.3 450,315.1 460,315.5 470,315.8 480,287.5 490,273.6 500,252.0 510,249.7 520,230.0 530,240.0 540,252.0 550,282.8 560,289.5 570,302.2 580,312.4 590,331.4 600,330.5 610,312.7 620,315.4 630,328.3 640,309.8 650,303.4 660,310.0 670,304.1 680,286.9 690,298.7" fill="none" stroke="#905020" stroke-width="1" marker-start="url(#k22)" marker-mid="url(#k22)" marker-end="url(#k22)"/>
<polyline points="50,288.0 60,298.9 70,301.6 80,284.1 90,283.0 100,280.0 110,279.3 120,249.3 130,234.6 140,230.2 150,240.3 160,235.6 170,246.3 180,258.8 190,267.2 200,265.9 210,276.6 220,290.4 230,294.5 240,276.6 250,281.5 260,289.0 270,290.4 280,275.5 290,279.0 300,282.4 310,289.3 320,283.4 330,288.1 340,291.5 350,304.6 360,290.0 370,298.5 380,307.8 390,301.3 400,302.2 410,295.0 420,309.3 430,313.3 440,290.2 450,303.9 460,309.5 470,299.0 480,292.9 490,288.9 500,287.1 510,300.5 520,274.0 530,286.5 540,292.8 550,301.9 560,283.8 570,287.4 580,286.5 590,280.1 600,277.6 610,285.0 620,293.6 630,291.2 640,280.6 650,284.8 660,284.7 670,304.3 680,284.4 690,279.0" fill="none" stroke="#9888f0" stroke-width="1" marker-start="url(#k23)" marker-mid="url(#k23)" marker-end="url(#k23)"/>
<polyline points="50,294.6 60,304.6 70,306.8 80,295.3 90,292.7 100,293.3 110,295.9 120,261.6 130,251.5 140,247.9 150,252.7 160,248.2 170,255.2 180,261.2 190,267.3 200,262.1 210,267.3 220,278.5 230,285.9 240,258.8 250,263.3 260,275.0 270,275.8 280,264.4 290,268.0 300,279.8 310,290.2 320,292.0 330,314.0 340,330.0 350,355.5 360,339.4 370,350.2 380,353.2 390,350.2 400,331.4 410,330.2 420,328.0 430,324.5 440,305.0 450,304.0 460,300.0 470,296.0 480,290.0 490,296.0 500,300.0 510,305.0 520,310.7 530,331.4 540,350.2 550,352.0 560,362.4 570,389.2 580,393.4 590,376.8 600,358.9 610,353.2 620,345.0 630,330.0 640,312.0 650,308.0 660,305.0 670,318.0 680,300.0 690,292.0" fill="none" stroke="#98f030" stroke-width="1" marker-start="url(#k24)" marker-mid="url(#k24)" marker-end="url(#k24)"/>
<polyline points="50,290.1 60,303.0 70,306.8 80,296.4 90,292.6 100,289.7 110,288.1 120,255.8 130,248.3 140,246.5 150,252.7 160,248.7 170,259.6 180,265.8 190,273.9 200,278.0 210,279.4 220,287.3 230,289.1 240,275.0 250,278.1 260,283.7 270,287.4 280,280.9 290,293.7 300,289.9 310,298.0 320,292.0 330,305.3 340,313.0 350,319.0 360,331.0 370,336.0 380,343.5 390,339.5 400,332.5 410,332.5 420,337.0 430,340.0 440,330.0 450,332.5 460,357.0 470,346.3 480,317.6 490,324.5 500,330.2 510,341.0 520,326.8 530,322.0 540,318.0 550,330.9 560,301.2 570,293.0 580,310.2 590,303.8 600,291.8 610,305.6 620,303.3 630,304.4 640,278.5 650,275.4 660,260.9 670,254.3 680,237.0 690,239.4" fill="none" stroke="#d070d8" stroke-width="1" marker-start="url(#k25)" marker-mid="url(#k25)" marker-end="url(#k25)"/>
<polyline points="50,291.4 60,302.4 70,306.7 80,296.3 90,292.8 100,291.9 110,285.4 120,256.7 130,244.9 140,237.9 150,241.4 160,233.1 170,246.5 180,249.7 190,256.2 200,251.0 210,249.7 220,251.7 230,251.6 240,244.5 250,245.2 260,246.9 270,242.0 280,228.3 290,239.1 300,244.6 310,257.8 320,250.9 330,267.4 340,270.3 350,290.7 360,281.9 370,288.6 380,287.6 390,293.1 400,288.2 410,300.3 420,303.8 430,300.3 440,275.2 450,268.0 460,260.0 470,257.8 480,245.0 490,255.5 500,263.5 510,277.0 520,275.6 530,296.8 540,306.8 550,304.7 560,308.7 570,296.4 580,296.7 590,312.7 600,289.4 610,296.4 620,296.5 630,308.3 640,293.9 650,287.3 660,297.4 670,293.1 680,256.8 690,277.8" fill="none" stroke="#1808a0" stroke-width="1" marker-start="url(#k26)" marker-mid="url(#k26)" marker-end="url(#k26)"/>
<polyline points="50,290.2 60,301.6 70,303.2 80,291.3 90,287.9 100,284.3 110,282.6 120,255.0 130,241.9 140,242.3 150,244.4 160,244.6 170,252.1 180,264.8 190,272.4 200,271.9 210,281.5 220,281.6 230,283.8 240,251.9 250,244.8 260,236.6 270,232.0 280,214.0 290,219.0 300,214.0 310,221.0 320,216.4 330,227.0 340,235.0 350,248.0 360,309.2 370,314.3 380,305.8 390,303.9 400,291.2 410,283.9 420,296.0 430,245.0 440,234.8 450,226.8 460,225.0 470,224.0 480,208.8 490,222.0 500,236.0 510,246.0 520,256.7 530,269.1 540,290.1 550,305.2 560,279.6 570,264.0 580,265.8 590,276.6 600,256.5 610,259.9 620,264.5 630,274.8 640,265.5 650,258.7 660,256.3 670,260.0 680,245.2 690,245.9" fill="none" stroke="#e0c8a0" stroke-width="1" marker-start="url(#k27)" marker-mid="url(#k27)" marker-end="url(#k27)"/>
<polyline points="50,291.6 60,304.4 70,307.3 80,296.8 90,293.3 100,294.4 110,295.3 120,256.0 130,257.6 140,255.2 150,253.3 160,252.7 170,257.2 180,263.5 190,274.1 200,280.3 210,274.7 220,267.9 230,257.1 240,233.0 250,228.8 260,231.8 270,233.0 280,220.3 290,223.8 300,225.6 310,237.0 320,231.0 330,239.9 340,249.0 350,245.6 360,239.4 370,245.1 380,256.2 390,256.6 400,248.6 410,249.3 420,242.4 430,237.6 440,216.4 450,212.3 460,203.8 470,213.0 480,205.4 490,214.1 500,226.8 510,236.6 520,219.9 530,224.5 540,230.2 550,234.8 560,223.3 570,234.8 580,240.5 590,252.0 600,246.3 610,255.5 620,259.0 630,261.0 640,246.3 650,256.6 660,267.0 670,273.8 680,262.0 690,268.0" fill="none" stroke="#880808" stroke-width="1" marker-start="url(#k28)" marker-mid="url(#k28)" marker-end="url(#k28)"/>
<polyline points="50,291.0 60,303.1 70,304.7 80,292.8 90,289.0 100,287.2 110,282.5 120,252.0 130,242.0 140,242.2 150,246.1 160,250.0 170,260.7 180,261.1 190,267.1 200,265.2 210,267.0 220,270.9 230,280.4 240,273.7 250,270.0 260,268.3 270,270.4 280,260.5 290,259.9 300,275.0 310,289.7 320,292.2 330,291.0 340,293.4 350,303.4 360,300.0 370,326.8 380,341.7 390,350.9 400,350.2 410,370.4 420,397.5 430,405.3 440,384.2 450,368.1 460,338.2 470,336.0 480,313.0 490,305.0 500,310.0 510,300.0 520,244.1 530,251.8 540,257.1 550,252.1 560,243.7 570,253.3 580,249.4 590,248.9 600,255.5 610,245.0 620,244.0 630,241.7 640,236.0 650,242.8 660,254.3 670,255.5 680,246.3 690,259.0" fill="none" stroke="#0838b8" stroke-width="1" marker-start="url(#k29)" marker-mid="url(#k29)" marker-end="url(#k29)"/>
<polyline points="60,545.0 70,545.0 80,545.0 90,545.0 100,545.0 110,545.0 120,545.0 130,545.0 140,545.0 150,545.0 160,545.0 170,545.0 180,545.0 190,534.0 200,538.0 210,545.0 220,545.0 230,545.0 240,545.0 250,545.0 260,545.0 270,545.0 280,545.0 290,545.0 300,545.0 310,545.0 320,545.0 330,545.0 340,545.0 350,545.0 360,544.2 370,544.3 380,544.1 390,541.8 400,533.0 410,516.8 420,533.0 430,544.9 440,543.6 450,544.1 460,544.9 470,544.9 480,543.8 490,542.2 500,543.7 510,544.0 520,544.0 530,544.6 540,543.5 550,543.9 560,544.7 570,544.7 580,544.4 590,544.4 600,543.7 610,543.9 620,544.3 630,544.4 640,540.5 650,544.6 660,543.2 670,543.9 680,543.7 690,544.7" fill="none" stroke="#e67e30" stroke-width="1" marker-start="url(#k0)" marker-mid="url(#k0)" marker-end="url(#k0)"/>
<polyline points="60,545.0 70,545.0 80,545.0 90,545.0 100,545.0 110,545.0 120,545.0 130,545.0 140,545.0 150,545.0 160,545.0 170,545.0 180,545.0 190,545.0 200,545.0 210,545.0 220,545.0 230,545.0 240,545.0 250,538.3 260,540.0 270,545.0 280,545.0 290,545.0 300,545.0 310,545.0 320,545.0 330,545.0 340,545.0 350,545.0 360,544.7 370,544.3 380,539.1 390,540.4 400,542.5 410,543.6 420,543.8 430,543.7 440,542.7 450,544.0 460,525.0 470,543.7 480,544.5 490,544.7 500,541.1 510,540.9 520,544.3 530,544.3 540,543.7 550,544.2 560,543.8 570,544.1 580,543.6 590,531.5 600,544.1 610,544.8 620,530.2 630,539.5 640,537.2 650,544.6 660,539.3 670,543.8 680,543.7 690,544.6" fill="none" stroke="#84c46c" stroke-width="1" marker-start="url(#k1)" marker-mid="url(#k1)" marker-end="url(#k1)"/>
<polyline points="60,545.0 70,545.0 80,538.0 90,545.0 100,545.0 110,545.0 120,545.0 130,545.0 140,545.0 150,545.0 160,545.0 170,545.0 180,545.0 190,545.0 200,545.0 210,545.0 220,545.0 230,537.8 240,538.6 250,545.0 260,545.0 270,545.0 280,545.0 290,545.0 300,545.0 310,545.0 320,545.0 330,545.0 340,545.0 350,545.0 360,544.7 370,543.6 380,522.0 390,542.9 400,544.8 410,543.7 420,544.0 430,544.1 440,544.8 450,534.2 460,543.6 470,540.5 480,543.9 490,543.5 500,541.4 510,543.6 520,543.9 530,543.6 540,544.0 550,543.7 560,543.8 570,544.1 580,544.4 590,544.1 600,540.4 610,543.7 620,544.4 630,544.1 640,543.7 650,538.8 660,534.9 670,535.7 680,539.7 690,543.6" fill="none" stroke="#f0c010" stroke-width="1" marker-start="url(#k2)" marker-mid="url(#k2)" marker-end="url(#k2)"/>
<polyline points="60,545.0 70,545.0 80,545.0 90,545.0 100,545.0 110,536.5 120,533.0 130,545.0 140,545.0 150,545.0 160,545.0 170,545.0 180,545.0 190,545.0 200,545.0 210,545.0 220,545.0 230,545.0 240,518.4 250,520.8 260,545.0 270,545.0 280,545.0 290,545.0 300,545.0 310,545.0 320,545.0 330,545.0 340,545.0 350,545.0 360,544.9 370,544.0 380,544.2 390,544.0 400,543.7 410,544.0 420,542.5 430,543.6 440,544.4 450,544.5 460,541.9 470,543.7 480,543.6 490,544.2 500,544.6 510,542.6 520,544.3 530,543.7 540,544.3 550,544.9 560,544.9 570,544.1 580,543.8 590,544.3 600,545.0 610,544.6 620,500.8 630,534.9 640,544.0 650,543.6 660,544.7 670,544.7 680,543.0 690,544.7" fill="none" stroke="#9048b0" stroke-width="1" marker-start="url(#k3)" marker-mid="url(#k3)" marker-end="url(#k3)"/>
<polyline points="60,545.0 70,545.0 80,545.0 90,545.0 100,545.0 110,545.0 120,545.0 130,545.0 140,545.0 150,545.0 160,545.0 170,545.0 180,545.0 190,545.0 200,545.0 210,545.0 220,545.0 230,545.0 240,545.0 250,545.0 260,545.0 270,545.0 280,545.0 290,545.0 300,545.0 310,545.0 320,545.0 330,545.0 340,545.0 350,545.0 360,543.1 370,544.2 380,543.9 390,543.8 400,544.9 410,543.9 420,542.3 430,543.6 440,544.1 450,543.8 460,544.3 470,544.7 480,543.8 490,543.9 500,534.6 510,543.5 520,543.8 530,543.6 540,544.5 550,542.4 560,543.8 570,545.0 580,544.9 590,534.9 600,538.0 610,535.7 620,531.3 630,544.0 640,544.3 650,544.9 660,541.6 670,539.1 680,544.2 690,544.2" fill="none" stroke="#b05010" stroke-width="1" marker-start="url(#k4)" marker-mid="url(#k4)" marker-end="url(#k4)"/>
<polyline points="60,545.0 70,545.0 80,545.0 90,545.0 100,545.0 110,545.0 120,545.0 130,545.0 140,545.0 150,545.0 160,545.0 170,545.0 180,545.0 190,545.0 200,545.0 210,545.0 220,545.0 230,545.0 240,545.0 250,545.0 260,545.0 270,545.0 280,545.0 290,545.0 300,545.0 310,545.0 320,545.0 330,545.0 340,545.0 350,545.0 360,544.4 370,543.6 380,536.4 390,544.2 400,544.7 410,544.2 420,545.0 430,544.2 440,543.8 450,544.3 460,482.3 470,515.4 480,537.0 490,542.1 500,542.4 510,543.6 520,544.5 530,540.7 540,544.8 550,545.0 560,543.8 570,544.5 580,544.1 590,539.1 600,541.8 610,544.0 620,544.3 630,544.4 640,544.8 650,540.5 660,544.2 670,544.1 680,544.7 690,543.8" fill="none" stroke="#5c8010" stroke-width="1" marker-start="url(#k5)" marker-mid="url(#k5)" marker-end="url(#k5)"/>
<polyline points="60,545.0 70,545.0 80,545.0 90,545.0 100,545.0 110,545.0 120,545.0 130,545.0 140,545.0 150,545.0 160,545.0 170,545.0 180,545.0 190,545.0 200,545.0 210,545.0 220,545.0 230,545.0 240,545.0 250,545.0 260,545.0 270,545.0 280,545.0 290,545.0 300,545.0 310,545.0 320,545.0 330,545.0 340,545.0 350,545.0 360,544.5 370,543.6 380,525.0 390,544.8 400,539.2 410,544.5 420,526.5 430,528.2 440,544.0 450,544.0 460,543.6 470,544.8 480,543.9 490,544.0 500,544.7 510,544.8 520,544.2 530,544.8 540,544.0 550,543.5 560,544.9 570,512.0 580,525.7 590,490.3 600,530.0 610,545.0 620,543.7 630,542.3 640,544.4 650,544.2 660,530.8 670,543.8 680,543.7 690,544.4" fill="none" stroke="#1080f0" stroke-width="1" marker-start="url(#k6)" marker-mid="url(#k6)" marker-end="url(#k6)"/>
<polyline points="60,545.0 70,545.0 80,545.0 90,545.0 100,545.0 110,545.0 120,545.0 130,545.0 140,545.0 150,545.0 160,545.0 170,545.0 180,545.0 190,545.0 200,545.0 210,545.0 220,545.0 230,545.0 240,545.0 250,545.0 260,545.0 270,545.0 280,545.0 290,545.0 300,545.0 310,545.0 320,545.0 330,545.0 340,545.0 350,545.0 360,544.2 370,543.8 380,534.1 390,543.8 400,544.4 410,543.7 420,543.8 430,544.4 440,544.9 450,544.3 460,543.0 470,544.1 480,532.0 490,544.5 500,544.1 510,544.4 520,544.0 530,543.9 540,545.0 550,543.9 560,542.7 570,544.0 580,544.9 590,534.4 600,544.2 610,544.1 620,544.0 630,544.9 640,543.9 650,538.0 660,542.1 670,541.9 680,544.9 690,544.4" fill="none" stroke="#e8d8b0" stroke-width="1" marker-start="url(#k7)" marker-mid="url(#k7)" marker-end="url(#k7)"/>
<polyline points="60,545.0 70,545.0 80,545.0 90,545.0 100,545.0 110,545.0 120,545.0 130,545.0 140,545.0 150,545.0 160,545.0 170,545.0 180,545.0 190,545.0 200,545.0 210,545.0 220,545.0 230,545.0 240,545.0 250,545.0 260,545.0 270,545.0 280,545.0 290,545.0 300,545.0 310,545.0 320,545.0 330,545.0 340,545.0 350,545.0 360,544.1 370,544.6 380,544.2 390,539.3 400,544.9 410,544.8 420,538.7 430,543.7 440,544.9 450,543.6 460,534.4 470,544.3 480,544.6 490,543.6 500,544.3 510,543.8 520,505.0 530,512.0 540,544.8 550,544.8 560,544.0 570,544.6 580,544.4 590,544.2 600,543.6 610,544.6 620,512.2 630,537.3 640,544.6 650,544.2 660,544.1 670,544.7 680,543.0 690,543.7" fill="none" stroke="#3c90c0" stroke-width="1" marker-start="url(#k8)" marker-mid="url(#k8)" marker-end="url(#k8)"/>
<polyline points="60,545.0 70,545.0 80,545.0 90,545.0 100,545.0 110,545.0 120,545.0 130,545.0 140,545.0 150,545.0 160,545.0 170,545.0 180,545.0 190,545.0 200,545.0 210,545.0 220,545.0 230,545.0 240,545.0 250,515.1 260,545.0 270,545.0 280,545.0 290,545.0 300,545.0 310,545.0 320,545.0 330,545.0 340,545.0 350,545.0 360,533.4 370,542.5 380,544.8 390,544.9 400,539.9 410,544.1 420,544.3 430,543.1 440,543.7 450,544.4 460,544.1 470,544.7 480,544.6 490,544.4 500,543.5 510,544.2 520,543.6 530,544.4 540,535.6 550,520.0 560,544.3 570,544.6 580,544.9 590,540.1 600,543.4 610,544.0 620,544.3 630,543.9 640,544.8 650,544.1 660,543.6 670,544.3 680,544.5 690,544.4" fill="none" stroke="#e8a858" stroke-width="1" marker-start="url(#k9)" marker-mid="url(#k9)" marker-end="url(#k9)"/>
<polyline points="60,545.0 70,545.0 80,545.0 90,545.0 100,545.0 110,545.0 120,545.0 130,545.0 140,545.0 150,545.0 160,545.0 170,545.0 180,545.0 190,545.0 200,545.0 210,545.0 220,545.0 230,545.0 240,545.0 250,545.0 260,545.0 270,545.0 280,545.0 290,545.0 300,545.0 310,545.0 320,545.0 330,545.0 340,545.0 350,545.0 360,543.7 370,543.0 380,544.5 390,544.4 400,541.3 410,544.2 420,501.6 430,522.2 440,509.2 450,533.0 460,544.1 470,544.0 480,544.9 490,543.8 500,544.6 510,543.7 520,540.5 530,538.8 540,544.6 550,538.5 560,543.9 570,544.5 580,544.0 590,515.4 600,538.0 610,544.4 620,522.2 630,522.2 640,539.7 650,544.0 660,543.9 670,544.4 680,544.8 690,543.5" fill="none" stroke="#605020" stroke-width="1" marker-start="url(#k10)" marker-mid="url(#k10)" marker-end="url(#k10)"/>
<polyline points="60,545.0 70,545.0 80,545.0 90,545.0 100,545.0 110,545.0 120,545.0 130,545.0 140,545.0 150,545.0 160,545.0 170,545.0 180,545.0 190,545.0 200,531.3 210,537.8 220,541.0 230,522.4 240,545.0 250,545.0 260,545.0 270,545.0 280,545.0 290,545.0 300,545.0 310,545.0 320,545.0 330,545.0 340,545.0 350,545.0 360,544.7 370,542.5 380,529.3 390,543.3 400,540.3 410,544.7 420,542.2 430,543.6 440,544.5 450,543.9 460,539.3 470,544.7 480,543.5 490,538.6 500,488.0 510,515.4 520,535.2 530,544.5 540,543.6 550,544.7 560,531.7 570,544.4 580,544.2 590,525.0 600,544.6 610,542.1 620,543.8 630,544.1 640,544.2 650,544.6 660,544.2 670,543.5 680,543.0 690,543.0" fill="none" stroke="#f86820" stroke-width="1" marker-start="url(#k11)" marker-mid="url(#k11)" marker-end="url(#k11)"/>
<polyline points="60,545.0 70,545.0 80,545.0 90,545.0 100,545.0 110,545.0 120,545.0 130,545.0 140,545.0 150,545.0 160,545.0 170,545.0 180,545.0 190,545.0 200,545.0 210,545.0 220,545.0 230,545.0 240,545.0 250,545.0 260,545.0 270,545.0 280,545.0 290,545.0 300,545.0 310,545.0 320,545.0 330,545.0 340,545.0 350,545.0 360,537.2 370,543.8 380,543.6 390,544.9 400,544.3 410,544.1 420,544.5 430,544.4 440,544.9 450,544.7 460,544.2 470,537.0 480,544.5 490,543.4 500,543.9 510,544.0 520,542.7 530,543.5 540,544.0 550,542.9 560,544.6 570,544.3 580,525.0 590,544.7 600,544.6 610,544.2 620,543.1 630,544.0 640,544.0 650,544.5 660,544.2 670,544.5 680,544.9 690,544.6" fill="none" stroke="#d0c070" stroke-width="1" marker-start="url(#k12)" marker-mid="url(#k12)" marker-end="url(#k12)"/>
<polyline points="60,545.0 70,545.0 80,545.0 90,545.0 100,545.0 110,545.0 120,545.0 130,545.0 140,545.0 150,545.0 160,540.0 170,540.8 180,542.0 190,545.0 200,545.0 210,545.0 220,545.0 230,545.0 240,545.0 250,545.0 260,545.0 270,545.0 280,545.0 290,545.0 300,545.0 310,545.0 320,545.0 330,545.0 340,545.0 350,526.5 360,543.9 370,542.7 380,544.1 390,543.8 400,544.4 410,544.9 420,544.4 430,544.0 440,543.8 450,521.0 460,536.0 470,518.9 480,511.3 490,530.3 500,543.2 510,544.0 520,542.9 530,543.8 540,544.1 550,538.5 560,544.2 570,544.2 580,539.4 590,544.2 600,543.7 610,532.0 620,544.7 630,543.7 640,544.0 650,543.6 660,544.3 670,538.0 680,543.0 690,544.2" fill="none" stroke="#10d860" stroke-width="1" marker-start="url(#k13)" marker-mid="url(#k13)" marker-end="url(#k13)"/>
<polyline points="60,545.0 70,545.0 80,545.0 90,545.0 100,545.0 110,545.0 120,545.0 130,545.0 140,545.0 150,545.0 160,545.0 170,545.0 180,545.0 190,545.0 200,545.0 210,545.0 220,545.0 230,545.0 240,545.0 250,545.0 260,545.0 270,545.0 280,545.0 290,545.0 300,545.0 310,545.0 320,545.0 330,545.0 340,545.0 350,545.0 360,544.6 370,543.5 380,544.1 390,537.2 400,534.8 410,541.2 420,544.7 430,544.9 440,544.1 450,543.6 460,544.5 470,543.9 480,544.1 490,545.0 500,542.2 510,542.8 520,544.7 530,544.6 540,544.5 550,544.9 560,544.8 570,544.1 580,544.4 590,544.0 600,543.9 610,543.5 620,543.7 630,544.3 640,543.6 650,544.2 660,543.6 670,544.9 680,543.6 690,544.1" fill="none" stroke="#203850" stroke-width="1" marker-start="url(#k14)" marker-mid="url(#k14)" marker-end="url(#k14)"/>
<polyline points="60,545.0 70,545.0 80,545.0 90,545.0 100,545.0 110,545.0 120,545.0 130,545.0 140,545.0 150,545.0 160,545.0 170,545.0 180,545.0 190,545.0 200,545.0 210,545.0 220,545.0 230,545.0 240,545.0 250,545.0 260,545.0 270,545.0 280,545.0 290,545.0 300,545.0 310,545.0 320,545.0 330,545.0 340,545.0 350,545.0 360,544.5 370,544.9 380,542.3 390,544.4 400,539.7 410,544.6 420,544.4 430,544.7 440,543.6 450,543.7 460,543.8 470,538.8 480,543.6 490,537.9 500,541.5 510,545.0 520,543.4 530,544.9 540,543.8 550,544.5 560,544.9 570,534.7 580,544.3 590,543.5 600,544.7 610,533.5 620,544.7 630,544.5 640,544.7 650,543.5 660,540.5 670,538.0 680,544.5 690,544.5" fill="none" stroke="#687078" stroke-width="1" marker-start="url(#k15)" marker-mid="url(#k15)" marker-end="url(#k15)"/>
<polyline points="60,545.0 70,545.0 80,545.0 90,545.0 100,545.0 110,545.0 120,545.0 130,545.0 140,545.0 150,545.0 160,545.0 170,545.0 180,545.0 190,545.0 200,536.0 210,545.0 220,545.0 230,545.0 240,545.0 250,545.0 260,545.0 270,545.0 280,545.0 290,545.0 300,545.0 310,545.0 320,545.0 330,545.0 340,545.0 350,545.0 360,543.7 370,544.8 380,543.6 390,544.9 400,543.3 410,544.7 420,543.8 430,543.8 440,544.0 450,544.1 460,543.4 470,544.0 480,540.4 490,526.7 500,544.2 510,544.9 520,544.6 530,537.7 540,543.5 550,544.6 560,541.4 570,534.8 580,544.9 590,543.9 600,543.6 610,544.7 620,544.0 630,544.0 640,544.2 650,543.7 660,544.2 670,544.7 680,544.8 690,544.6" fill="none" stroke="#e078f8" stroke-width="1" marker-start="url(#k16)" marker-mid="url(#k16)" marker-end="url(#k16)"/>
<polyline points="60,545.0 70,545.0 80,545.0 90,545.0 100,545.0 110,545.0 120,533.8 130,545.0 140,545.0 150,545.0 160,545.0 170,545.0 180,545.0 190,545.0 200,545.0 210,545.0 220,545.0 230,545.0 240,545.0 250,545.0 260,545.0 270,545.0 280,545.0 290,545.0 300,545.0 310,545.0 320,545.0 330,545.0 340,545.0 350,545.0 360,543.8 370,543.8 380,542.0 390,541.1 400,544.9 410,543.9 420,543.7 430,544.3 440,541.9 450,544.3 460,537.8 470,534.3 480,544.2 490,544.6 500,543.3 510,543.3 520,544.2 530,541.0 540,537.3 550,543.7 560,539.7 570,543.8 580,542.6 590,544.7 600,544.9 610,543.9 620,544.8 630,543.9 640,543.8 650,544.8 660,528.0 670,539.7 680,543.0 690,543.9" fill="none" stroke="#8020f0" stroke-width="1" marker-start="url(#k17)" marker-mid="url(#k17)" marker-end="url(#k17)"/>
<polyline points="60,545.0 70,545.0 80,545.0 90,545.0 100,545.0 110,545.0 120,545.0 130,545.0 140,545.0 150,545.0 160,545.0 170,545.0 180,545.0 190,545.0 200,545.0 210,545.0 220,545.0 230,545.0 240,545.0 250,545.0 260,545.0 270,545.0 280,545.0 290,545.0 300,545.0 310,545.0 320,545.0 330,545.0 340,545.0 350,545.0 360,543.7 370,522.2 380,489.3 390,520.0 400,533.0 410,538.0 420,544.9 430,544.0 440,544.1 450,544.3 460,543.7 470,543.8 480,543.1 490,541.4 500,544.0 510,542.2 520,544.3 530,544.0 540,544.7 550,544.9 560,544.5 570,544.9 580,543.6 590,543.6 600,544.6 610,544.8 620,544.5 630,543.9 640,545.0 650,544.4 660,538.0 670,543.8 680,544.9 690,544.6" fill="none" stroke="#805828" stroke-width="1" marker-start="url(#k18)" marker-mid="url(#k18)" marker-end="url(#k18)"/>
<polyline points="60,545.0 70,545.0 80,545.0 90,545.0 100,545.0 110,545.0 120,545.0 130,545.0 140,545.0 150,545.0 160,545.0 170,545.0 180,545.0 190,545.0 200,545.0 210,545.0 220,545.0 230,545.0 240,545.0 250,545.0 260,545.0 270,545.0 280,545.0 290,545.0 300,545.0 310,545.0 320,545.0 330,545.0 340,545.0 350,545.0 360,544.3 370,545.0 380,533.4 390,544.8 400,544.6 410,544.0 420,544.0 430,539.4 440,544.4 450,544.7 460,543.1 470,544.8 480,540.5 490,543.8 500,544.6 510,543.6 520,539.7 530,543.6 540,544.6 550,544.9 560,544.4 570,542.8 580,544.3 590,544.2 600,544.3 610,540.1 620,544.6 630,544.4 640,541.1 650,544.2 660,545.0 670,544.5 680,543.0 690,543.0" fill="none" stroke="#300870" stroke-width="1" marker-start="url(#k19)" marker-mid="url(#k19)" marker-end="url(#k19)"/>
<polyline points="60,545.0 70,545.0 80,545.0 90,545.0 100,545.0 110,545.0 120,545.0 130,545.0 140,545.0 150,545.0 160,545.0 170,545.0 180,545.0 190,545.0 200,545.0 210,545.0 220,545.0 230,545.0 240,545.0 250,545.0 260,545.0 270,545.0 280,545.0 290,545.0 300,545.0 310,545.0 320,545.0 330,545.0 340,545.0 350,545.0 360,544.3 370,544.6 380,543.1 390,544.2 400,540.0 410,542.1 420,543.6 430,544.1 440,543.8 450,544.1 460,544.4 470,537.0 480,544.4 490,544.9 500,541.8 510,544.5 520,544.8 530,543.8 540,544.6 550,541.5 560,544.6 570,544.0 580,544.1 590,543.8 600,544.5 610,543.7 620,543.9 630,544.0 640,543.8 650,540.6 660,544.2 670,544.6 680,544.2 690,543.7" fill="none" stroke="#f0d000" stroke-width="1" marker-start="url(#k20)" marker-mid="url(#k20)" marker-end="url(#k20)"/>
<polyline points="60,545.0 70,545.0 80,545.0 90,545.0 100,545.0 110,545.0 120,545.0 130,545.0 140,545.0 150,545.0 160,545.0 170,545.0 180,545.0 190,545.0 200,545.0 210,545.0 220,545.0 230,545.0 240,545.0 250,545.0 260,545.0 270,545.0 280,545.0 290,545.0 300,545.0 310,545.0 320,545.0 330,541.0 340,459.9 350,523.2 360,541.6 370,544.8 380,544.7 390,539.5 400,542.3 410,544.3 420,535.9 430,544.9 440,541.8 450,544.4 460,544.6 470,544.5 480,543.9 490,543.8 500,522.3 510,530.0 520,502.9 530,508.6 540,544.7 550,544.9 560,543.6 570,544.8 580,544.4 590,544.4 600,543.5 610,539.4 620,544.8 630,539.1 640,544.8 650,545.0 660,544.3 670,544.5 680,543.7 690,543.0" fill="none" stroke="#2868a8" stroke-width="1" marker-start="url(#k21)" marker-mid="url(#k21)" marker-end="url(#k21)"/>
<polyline points="60,545.0 70,545.0 80,545.0 90,545.0 100,545.0 110,545.0 120,545.0 130,545.0 140,545.0 150,545.0 160,545.0 170,545.0 180,545.0 190,545.0 200,538.6 210,515.1 220,532.5 230,519.2 240,542.0 250,545.0 260,545.0 270,545.0 280,545.0 290,545.0 300,545.0 310,545.0 320,545.0 330,545.0 340,545.0 350,545.0 360,543.9 370,544.4 380,544.2 390,544.8 400,544.5 410,544.6 420,544.8 430,545.0 440,544.8 450,544.6 460,542.0 470,544.6 480,544.7 490,544.5 500,544.1 510,543.5 520,535.9 530,544.4 540,544.4 550,541.4 560,544.1 570,532.4 580,543.5 590,543.7 600,544.7 610,544.2 620,544.7 630,543.9 640,544.2 650,532.9 660,545.0 670,543.8 680,543.9 690,543.8" fill="none" stroke="#905020" stroke-width="1" marker-start="url(#k22)" marker-mid="url(#k22)" marker-end="url(#k22)"/>
<polyline points="60,545.0 70,545.0 80,545.0 90,545.0 100,545.0 110,545.0 120,545.0 130,545.0 140,545.0 150,545.0 160,545.0 170,545.0 180,545.0 190,545.0 200,545.0 210,545.0 220,545.0 230,545.0 240,545.0 250,545.0 260,545.0 270,545.0 280,545.0 290,545.0 300,545.0 310,545.0 320,545.0 330,545.0 340,545.0 350,545.0 360,543.8 370,544.8 380,544.4 390,544.6 400,545.0 410,544.7 420,544.4 430,543.8 440,544.0 450,544.6 460,544.5 470,543.2 480,544.7 490,544.2 500,544.7 510,544.3 520,544.4 530,541.9 540,544.5 550,543.6 560,535.4 570,543.9 580,525.3 590,527.0 600,542.6 610,544.7 620,539.9 630,544.5 640,543.0 650,544.8 660,544.4 670,544.7 680,543.7 690,544.1" fill="none" stroke="#9888f0" stroke-width="1" marker-start="url(#k23)" marker-mid="url(#k23)" marker-end="url(#k23)"/>
<polyline points="60,545.0 70,545.0 80,545.0 90,545.0 100,545.0 110,545.0 120,545.0 130,545.0 140,545.0 150,545.0 160,545.0 170,545.0 180,545.0 190,545.0 200,545.0 210,545.0 220,545.0 230,545.0 240,545.0 250,545.0 260,545.0 270,545.0 280,545.0 290,545.0 300,545.0 310,545.0 320,545.0 330,545.0 340,545.0 350,545.0 360,504.4 370,536.8 380,544.3 390,544.4 400,544.7 410,544.1 420,545.0 430,544.3 440,544.1 450,544.8 460,543.5 470,544.5 480,543.5 490,543.7 500,525.0 510,544.6 520,544.0 530,543.8 540,511.3 550,518.9 560,422.9 570,485.7 580,496.0 590,537.0 600,540.4 610,541.4 620,544.3 630,496.0 640,533.2 650,543.6 660,544.8 670,544.8 680,543.1 690,543.7" fill="none" stroke="#98f030" stroke-width="1" marker-start="url(#k24)" marker-mid="url(#k24)" marker-end="url(#k24)"/>
<polyline points="60,545.0 70,545.0 80,545.0 90,545.0 100,545.0 110,545.0 120,545.0 130,545.0 140,545.0 150,545.0 160,545.0 170,545.0 180,545.0 190,545.0 200,545.0 210,545.0 220,545.0 230,545.0 240,545.0 250,545.0 260,545.0 270,545.0 280,545.0 290,545.0 300,545.0 310,545.0 320,539.5 330,533.4 340,545.0 350,545.0 360,544.1 370,543.7 380,543.6 390,525.1 400,540.5 410,543.9 420,540.0 430,545.0 440,544.5 450,544.6 460,544.0 470,544.4 480,544.3 490,544.4 500,544.1 510,544.7 520,544.0 530,544.5 540,544.4 550,540.5 560,543.8 570,544.3 580,543.6 590,543.9 600,541.1 610,535.7 620,536.3 630,544.3 640,544.4 650,544.1 660,544.9 670,544.6 680,543.6 690,543.0" fill="none" stroke="#d070d8" stroke-width="1" marker-start="url(#k25)" marker-mid="url(#k25)" marker-end="url(#k25)"/>
<polyline points="60,545.0 70,545.0 80,545.0 90,545.0 100,545.0 110,545.0 120,545.0 130,545.0 140,545.0 150,545.0 160,545.0 170,545.0 180,545.0 190,545.0 200,545.0 210,545.0 220,545.0 230,545.0 240,545.0 250,545.0 260,545.0 270,545.0 280,545.0 290,545.0 300,545.0 310,545.0 320,545.0 330,545.0 340,545.0 350,545.0 360,544.6 370,544.8 380,544.6 390,544.5 400,543.7 410,544.2 420,534.8 430,530.8 440,517.8 450,530.8 460,543.6 470,540.5 480,544.5 490,544.5 500,544.1 510,543.5 520,544.4 530,544.0 540,543.5 550,542.2 560,544.0 570,525.0 580,542.9 590,542.7 600,544.9 610,540.3 620,543.9 630,537.5 640,543.8 650,542.2 660,538.0 670,543.7 680,543.1 690,544.2" fill="none" stroke="#1808a0" stroke-width="1" marker-start="url(#k26)" marker-mid="url(#k26)" marker-end="url(#k26)"/>
<polyline points="60,545.0 70,545.0 80,545.0 90,545.0 100,545.0 110,545.0 120,545.0 130,545.0 140,545.0 150,545.0 160,545.0 170,545.0 180,545.0 190,545.0 200,545.0 210,545.0 220,545.0 230,545.0 240,545.0 250,545.0 260,545.0 270,545.0 280,545.0 290,545.0 300,545.0 310,545.0 320,545.0 330,545.0 340,545.0 350,545.0 360,538.0 370,544.2 380,541.2 390,544.6 400,544.6 410,544.6 420,544.9 430,542.3 440,544.3 450,544.8 460,544.8 470,544.2 480,544.1 490,543.6 500,545.0 510,537.3 520,543.9 530,541.6 540,544.5 550,543.6 560,543.7 570,542.6 580,543.6 590,533.7 600,544.3 610,543.7 620,544.1 630,543.6 640,544.6 650,544.6 660,544.4 670,544.5 680,544.3 690,543.0" fill="none" stroke="#e0c8a0" stroke-width="1" marker-start="url(#k27)" marker-mid="url(#k27)" marker-end="url(#k27)"/>
<polyline points="60,545.0 70,545.0 80,545.0 90,545.0 100,545.0 110,545.0 120,545.0 130,545.0 140,545.0 150,545.0 160,545.0 170,545.0 180,545.0 190,545.0 200,545.0 210,545.0 220,545.0 230,545.0 240,545.0 250,545.0 260,545.0 270,545.0 280,545.0 290,545.0 300,545.0 310,545.0 320,545.0 330,545.0 340,545.0 350,545.0 360,541.6 370,544.4 380,524.3 390,536.0 400,544.7 410,544.3 420,542.7 430,545.0 440,543.6 450,544.1 460,544.5 470,544.1 480,544.3 490,543.9 500,544.6 510,543.6 520,544.4 530,544.4 540,539.9 550,526.4 560,544.5 570,543.8 580,544.0 590,538.5 600,540.6 610,543.6 620,545.0 630,543.9 640,545.0 650,544.4 660,543.5 670,544.9 680,540.5 690,544.4" fill="none" stroke="#880808" stroke-width="1" marker-start="url(#k28)" marker-mid="url(#k28)" marker-end="url(#k28)"/>
<polyline points="60,545.0 70,545.0 80,545.0 90,545.0 100,545.0 110,545.0 120,545.0 130,545.0 140,545.0 150,545.0 160,545.0 170,545.0 180,545.0 190,545.0 200,545.0 210,545.0 220,545.0 230,545.0 240,545.0 250,545.0 260,545.0 270,545.0 280,545.0 290,545.0 300,545.0 310,545.0 320,545.0 330,545.0 340,545.0 350,545.0 360,544.3 370,543.3 380,544.9 390,536.9 400,544.2 410,544.4 420,543.6 430,543.6 440,522.2 450,520.4 460,535.7 470,545.0 480,535.0 490,460.6 500,430.9 510,539.0 520,538.9 530,541.0 540,543.1 550,543.1 560,544.2 570,544.1 580,544.5 590,544.3 600,544.5 610,544.6 620,539.1 630,544.6 640,537.2 650,543.9 660,544.1 670,543.5 680,544.3 690,544.7" fill="none" stroke="#0838b8" stroke-width="1" marker-start="url(#k29)" marker-mid="url(#k29)" marker-end="url(#k29)"/>
</g>
<g stroke-linejoin="round" stroke-linecap="round">
<polyline points="50,290.4 60,301.9 70,304.2 80,291.5 90,289.3 100,287.0 110,284.7 120,251.4 130,242.2 140,239.9 150,244.0 160,239.9 170,247.9 180,256.0 190,264.0 200,259.4 210,265.1 220,269.3 230,268.6 240,253.6 250,254.8 260,257.1 270,259.4 280,249.0 290,252.5 300,259.4 310,267.4 320,264.0 330,274.3 340,284.7 350,295.5 360,290.9 370,299.5 380,303.7 390,306.0 400,295.2 410,297.5 420,298.4 430,299.8 440,286.5 450,287.6 460,288.8 470,289.2 480,275.0 490,278.4 500,283.0 510,287.6 520,277.3 530,282.5 540,287.6 550,293.4 560,284.2 570,286.5 580,291.1 590,295.7 600,283.0 610,286.5 620,292.9 630,294.5 640,284.6 650,290.0 660,293.8 670,295.2 680,280.0 690,280.7" fill="none" stroke="#ff0000" stroke-width="3.0"/>
<polyline points="60,544.5 70,544.5 80,544.5 90,544.5 100,544.5 110,544.5 120,544.5 130,544.5 140,544.5 150,544.5 160,544.5 170,544.5 180,544.5 190,544.5 200,544.5 210,544.5 220,543.5 230,542.0 240,543.5 250,544.5 260,544.5 270,544.5 280,544.5 290,544.5 300,544.5 310,544.5 320,544.5 330,544.5 340,544.5 350,544.5 360,544.5 370,542.0 380,539.5 390,540.5 400,541.5 410,542.0 420,541.0 430,540.5 440,540.0 450,541.0 460,541.0 470,542.0 480,542.0 490,540.0 500,537.8 510,541.5 520,541.0 530,541.0 540,537.5 550,537.0 560,537.5 570,540.0 580,541.0 590,540.0 600,542.0 610,543.0 620,541.0 630,540.5 640,542.5 650,543.0 660,542.0 670,542.5 680,543.5 690,545.0" fill="none" stroke="#ff0000" stroke-width="3.0"/>
</g>
<g stroke="#000" shape-rendering="crispEdges"><line x1="50.5" y1="0" x2="50.5" y2="601"/><line x1="690.5" y1="0" x2="690.5" y2="601"/><line x1="50" y1="600.5" x2="691" y2="600.5"/></g>
<text class="s" x="19.5" y="27">1050</text>
<text class="s" x="709.5" y="27">75</text>
<text class="s" x="19.5" y="62">1045</text>
<text class="s" x="709.5" y="62">70</text>
<text class="s" x="19.5" y="97">1040</text>
<text class="s" x="709.5" y="97">65</text>
<text class="s" x="19.5" y="132">1035</text>
<text class="s" x="709.5" y="132">60</text>
<text class="s" x="19.5" y="167">1030</text>
<text class="s" x="709.5" y="167">55</text>
<text class="s" x="19.5" y="202">1025</text>
<text class="s" x="709.5" y="202">50</text>
<text class="s" x="19.5" y="237">1020</text>
<text class="s" x="709.5" y="237">45</text>
<text class="s" x="19.5" y="272">1015</text>
<text class="s" x="709.5" y="272">40</text>
<text class="s" x="19.5" y="307">1010</text>
<text class="s" x="709.5" y="307">35</text>
<text class="s" x="19.5" y="342">1005</text>
<text class="s" x="709.5" y="342">30</text>
<text class="s" x="19.5" y="377">1000</text>
<text class="s" x="709.5" y="377">25</text>
<text class="s" x="19.5" y="412">995</text>
<text class="s" x="709.5" y="412">20</text>
<text class="s" x="19.5" y="447">990</text>
<text class="s" x="709.5" y="447">15</text>
<text class="s" x="19.5" y="482">985</text>
<text class="s" x="709.5" y="482">10</text>
<text class="s" x="19.5" y="517">980</text>
<text class="s" x="709.5" y="517">5</text>
<text class="s" x="19.5" y="552">975</text>
<text class="s" x="709.5" y="552">0</text>
<text class="m" x="59" y="222" textLength="48" lengthAdjust="spacingAndGlyphs">Pression</text>
<text class="m" x="59" y="528" textLength="84" lengthAdjust="spacingAndGlyphs">Précipitations</text>
<text class="m" x="19" y="612" textLength="30" lengthAdjust="spacingAndGlyphs">(hPa)</text>
<text class="m" x="708" y="612" textLength="24" lengthAdjust="spacingAndGlyphs">(mm)</text>
<text class="m" transform="translate(91.5,632) rotate(-90)" textLength="30" lengthAdjust="spacingAndGlyphs">22/04</text>
<text class="m" transform="translate(131.5,632) rotate(-90)" textLength="30" lengthAdjust="spacingAndGlyphs">23/04</text>
<text class="m" transform="translate(171.5,632) rotate(-90)" textLength="30" lengthAdjust="spacingAndGlyphs">24/04</text>
<text class="m" transform="translate(211.5,632) rotate(-90)" textLength="30" lengthAdjust="spacingAndGlyphs">25/04</text>
<text class="m" transform="translate(251.5,632) rotate(-90)" textLength="30" lengthAdjust="spacingAndGlyphs">26/04</text>
<text class="m" transform="translate(291.5,632) rotate(-90)" textLength="30" lengthAdjust="spacingAndGlyphs">27/04</text>
<text class="m" transform="translate(331.5,632) rotate(-90)" textLength="30" lengthAdjust="spacingAndGlyphs">28/04</text>
<text class="m" transform="translate(371.5,632) rotate(-90)" textLength="30" lengthAdjust="spacingAndGlyphs">29/04</text>
<text class="m" transform="translate(411.5,632) rotate(-90)" textLength="30" lengthAdjust="spacingAndGlyphs">30/04</text>
<text class="m" transform="translate(451.5,632) rotate(-90)" textLength="30" lengthAdjust="spacingAndGlyphs">01/05</text>
<text class="m" transform="translate(491.5,632) rotate(-90)" textLength="30" lengthAdjust="spacingAndGlyphs">02/05</text>
<text class="m" transform="translate(531.5,632) rotate(-90)" textLength="30" lengthAdjust="spacingAndGlyphs">03/05</text>
<text class="m" transform="translate(571.5,632) rotate(-90)" textLength="30" lengthAdjust="spacingAndGlyphs">04/05</text>
<text class="m" transform="translate(611.5,632) rotate(-90)" textLength="30" lengthAdjust="spacingAndGlyphs">05/05</text>
<text class="m" transform="translate(651.5,632) rotate(-90)" textLength="30" lengthAdjust="spacingAndGlyphs">06/05</text>
<text class="m" transform="translate(691.5,632) rotate(-90)" textLength="30" lengthAdjust="spacingAndGlyphs">07/05</text>
<g shape-rendering="crispEdges"><rect x="35" y="645" width="31" height="4" fill="#ff0000"/><rect x="225" y="635" width="31" height="4" fill="#0000ff"/><rect x="225" y="645" width="31" height="4" fill="#000"/></g>
<text class="m" x="75" y="651" textLength="126" lengthAdjust="spacingAndGlyphs">Moyenne des scénarios</text>
<text class="m" x="265" y="641" textLength="90" lengthAdjust="spacingAndGlyphs">Run de contrôle</text>
<text class="m" x="265" y="651" textLength="42" lengthAdjust="spacingAndGlyphs">Run GFS</text>
<text class="m" x="179" y="664.5" textLength="150" lengthAdjust="spacingAndGlyphs">Altitude du modele : 226m</text>
<text class="m" x="339" y="656" textLength="54" lengthAdjust="spacingAndGlyphs">30 Perts.</text>
<g shape-rendering="crispEdges">
<rect x="400" y="650" width="10" height="6" fill="#e67e30"/>
<rect x="411" y="650" width="10" height="6" fill="#84c46c"/>
<rect x="422" y="650" width="10" height="6" fill="#f0c010"/>
<rect x="433" y="650" width="10" height="6" fill="#9048b0"/>
<rect x="444" y="650" width="10" height="6" fill="#b05010"/>
<rect x="455" y="650" width="10" height="6" fill="#5c8010"/>
<rect x="466" y="650" width="10" height="6" fill="#1080f0"/>
<rect x="477" y="650" width="10" height="6" fill="#e8d8b0"/>
<rect x="488" y="650" width="10" height="6" fill="#3c90c0"/>
<rect x="499" y="650" width="10" height="6" fill="#e8a858"/>
<rect x="510" y="650" width="10" height="6" fill="#605020"/>
<rect x="521" y="650" width="10" height="6" fill="#f86820"/>
<rect x="532" y="650" width="10" height="6" fill="#d0c070"/>
<rect x="543" y="650" width="10" height="6" fill="#10d860"/>
<rect x="554" y="650" width="10" height="6" fill="#203850"/>
<rect x="565" y="650" width="10" height="6" fill="#687078"/>
<rect x="576" y="650" width="10" height="6" fill="#e078f8"/>
<rect x="587" y="650" width="10" height="6" fill="#8020f0"/>
<rect x="598" y="650" width="10" height="6" fill="#805828"/>
<rect x="609" y="650" width="10" height="6" fill="#300870"/>
<rect x="620" y="650" width="10" height="6" fill="#f0d000"/>
<rect x="631" y="650" width="10" height="6" fill="#2868a8"/>
<rect x="642" y="650" width="10" height="6" fill="#905020"/>
<rect x="653" y="650" width="10" height="6" fill="#9888f0"/>
<rect x="664" y="650" width="10" height="6" fill="#98f030"/>
<rect x="675" y="650" width="10" height="6" fill="#d070d8"/>
<rect x="686" y="650" width="10" height="6" fill="#1808a0"/>
<rect x="697" y="650" width="10" height="6" fill="#e0c8a0"/>
<rect x="708" y="650" width="10" height="6" fill="#880808"/>
<rect x="719" y="650" width="10" height="6" fill="#0838b8"/>
</g>
<text class="t" x="400" y="647.5" textLength="9.6" lengthAdjust="spacingAndGlyphs">01</text>
<text class="t" x="411" y="647.5" textLength="9.6" lengthAdjust="spacingAndGlyphs">02</text>
<text class="t" x="422" y="647.5" textLength="9.6" lengthAdjust="spacingAndGlyphs">03</text>
<text class="t" x="433" y="647.5" textLength="9.6" lengthAdjust="spacingAndGlyphs">04</text>
<text class="t" x="444" y="647.5" textLength="9.6" lengthAdjust="spacingAndGlyphs">05</text>
<text class="t" x="455" y="647.5" textLength="9.6" lengthAdjust="spacingAndGlyphs">06</text>
<text class="t" x="466" y="647.5" textLength="9.6" lengthAdjust="spacingAndGlyphs">07</text>
<text class="t" x="477" y="647.5" textLength="9.6" lengthAdjust="spacingAndGlyphs">08</text>
<text class="t" x="488" y="647.5" textLength="9.6" lengthAdjust="spacingAndGlyphs">09</text>
<text class="t" x="499" y="647.5" textLength="9.6" lengthAdjust="spacingAndGlyphs">10</text>
<text class="t" x="510" y="647.5" textLength="9.6" lengthAdjust="spacingAndGlyphs">11</text>
<text class="t" x="521" y="647.5" textLength="9.6" lengthAdjust="spacingAndGlyphs">12</text>
<text class="t" x="532" y="647.5" textLength="9.6" lengthAdjust="spacingAndGlyphs">13</text>
<text class="t" x="543" y="647.5" textLength="9.6" lengthAdjust="spacingAndGlyphs">14</text>
<text class="t" x="554" y="647.5" textLength="9.6" lengthAdjust="spacingAndGlyphs">15</text>
<text class="t" x="565" y="647.5" textLength="9.6" lengthAdjust="spacingAndGlyphs">16</text>
<text class="t" x="576" y="647.5" textLength="9.6" lengthAdjust="spacingAndGlyphs">17</text>
<text class="t" x="587" y="647.5" textLength="9.6" lengthAdjust="spacingAndGlyphs">18</text>
<text class="t" x="598" y="647.5" textLength="9.6" lengthAdjust="spacingAndGlyphs">19</text>
<text class="t" x="609" y="647.5" textLength="9.6" lengthAdjust="spacingAndGlyphs">20</text>
<text class="t" x="620" y="647.5" textLength="9.6" lengthAdjust="spacingAndGlyphs">21</text>
<text class="t" x="631" y="647.5" textLength="9.6" lengthAdjust="spacingAndGlyphs">22</text>
<text class="t" x="642" y="647.5" textLength="9.6" lengthAdjust="spacingAndGlyphs">23</text>
<text class="t" x="653" y="647.5" textLength="9.6" lengthAdjust="spacingAndGlyphs">24</text>
<text class="t" x="664" y="647.5" textLength="9.6" lengthAdjust="spacingAndGlyphs">25</text>
<text class="t" x="675" y="647.5" textLength="9.6" lengthAdjust="spacingAndGlyphs">26</text>
<text class="t" x="686" y="647.5" textLength="9.6" lengthAdjust="spacingAndGlyphs">27</text>
<text class="t" x="697" y="647.5" textLength="9.6" lengthAdjust="spacingAndGlyphs">28</text>
<text class="t" x="708" y="647.5" textLength="9.6" lengthAdjust="spacingAndGlyphs">29</text>
<text class="t" x="719" y="647.5" textLength="9.6" lengthAdjust="spacingAndGlyphs">30</text>
<rect x="20.5" y="667.5" width="420" height="32" fill="#fff" stroke="#000" stroke-width="1" shape-rendering="crispEdges"/>
<text class="mb" x="30" y="681.5" textLength="350" lengthAdjust="spacingAndGlyphs">Diagramme des ensembles GEFS sur 384h : 39.6N 0.5W</text>
<text class="m" x="30" y="696" textLength="336" lengthAdjust="spacingAndGlyphs">Pression au niveau de la mer (hPa) , précipitations (mm)</text>
<text class="m" x="449" y="676" textLength="198" lengthAdjust="spacingAndGlyphs">Ensemble GEFS du 21/04/2026 - 06Z</text>
<text class="mb" x="449" y="696" textLength="189" lengthAdjust="spacingAndGlyphs">Copyright 2026 Meteociel.fr</text>
</svg></body></html>
